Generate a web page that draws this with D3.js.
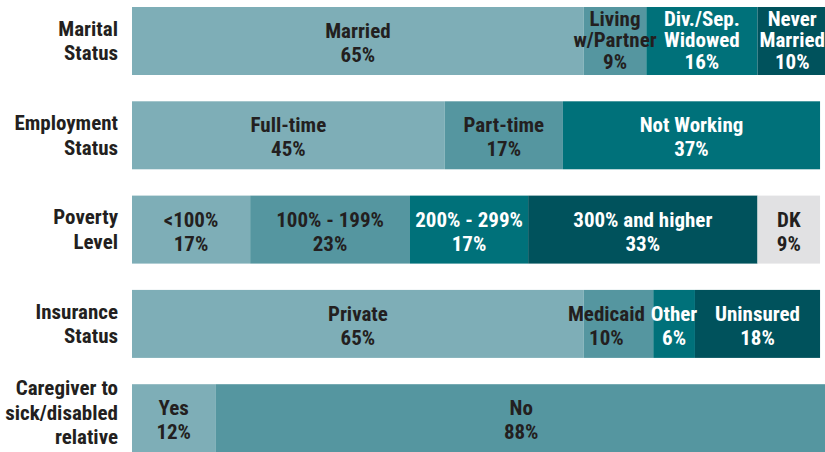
<!DOCTYPE html>
<meta charset="utf-8">
<style>
body { margin: 0; background: #fff; }
svg text {
  font-family: Roboto, "Liberation Sans", sans-serif;
  font-stretch: condensed;
  font-weight: bold;
}
</style>
<body>
<svg width="825" height="452"></svg>
</body>
<script src="https://d3js.org/d3.v7.min.js"></script>
<script>

// row labels (one entry per line)
var rowLabels = [
  ["Marital", "Status"],
  ["Employment", "Status"],
  ["Poverty", "Level"],
  ["Insurance", "Status"],
  ["Caregiver to", "sick/disabled", "relative"]
];

// segment labels per row (one entry per line)
var segLabels = [
  [["Married"], ["Living", "w/Partner"], ["Div./Sep.", "Widowed"], ["Never", "Married"]],
  [["Full-time"], ["Part-time"], ["Not Working"]],
  [["<100%"], ["100% - 199%"], ["200% - 299%"], ["300% and higher"], ["DK"]],
  [["Private"], ["Medicaid"], ["Other"], ["Uninsured"]],
  [["Yes"], ["No"]]
];

// percentages per row
var segValues = [
  [65, 9, 16, 10],
  [45, 17, 37],
  [17, 23, 17, 33, 9],
  [65, 10, 6, 18],
  [12, 88]
];

var palette = ["#7eaeb7", "#5596a0", "#00717a", "#00525c"];
var dkColor = "#e1e1e3";
var darkText = "#231f20";

var svg = d3.select("svg");

var x = d3.scaleLinear().domain([0, 100]).range([132, 827]);

var y = d3.scaleBand()
    .domain(d3.range(rowLabels.length))
    .range([7, 7 + 4 * 94.3 + 68])
    .paddingInner(0.279)
    .paddingOuter(0);

var rowData = rowLabels.map(function(l, i) {
  var acc = 0;
  var segs = segValues[i].map(function(v, j) {
    var s = {label: segLabels[i][j], value: v, x0: acc, x1: acc + v, idx: j};
    acc += v;
    return s;
  });
  return {label: l, i: i, segs: segs};
});

var bh = y.bandwidth();

var rows = svg.selectAll("g.row")
    .data(rowData)
  .enter().append("g")
    .attr("class", "row")
    .attr("transform", function(d) { return "translate(0," + y(d.i) + ")"; });

// row label on the left
rows.append("text")
    .attr("text-anchor", "end")
    .attr("fill", darkText)
    .style("font-size", "21px")
  .selectAll("tspan")
    .data(function(d) {
      var n = d.label.length, off = n > 2 ? 1.5 : 7;
      return d.label.map(function(t, k) { return {t: t, y: bh / 2 + (k - (n - 1) / 2) * 24.5 + off}; });
    })
  .enter().append("tspan")
    .attr("x", 118)
    .attr("y", function(d) { return d.y; })
    .text(function(d) { return d.t; });

// all bars first, then the labels so overflowing text stays on top
rows.append("g").selectAll("rect")
    .data(function(d) { return d.segs; })
  .enter().append("rect")
    .attr("x", function(d) { return x(d.x0); })
    .attr("width", function(d) { return x(d.x1) - x(d.x0); })
    .attr("height", bh)
    .attr("fill", function(d) { return d.label[0] === "DK" ? dkColor : palette[d.idx]; });

var labels = rows.append("g").selectAll("text")
    .data(function(d) { return d.segs; })
  .enter().append("text")
    .attr("text-anchor", "middle")
    .attr("fill", function(d) { return (d.idx >= 2 && d.label[0] !== "DK") ? "#fff" : darkText; })
    .style("font-size", "21px");

labels.selectAll("tspan")
    .data(function(d) {
      var lines = d.label.concat([d.value + "%"]);
      var n = lines.length;
      var lh = n > 2 ? 21.5 : 24;
      var off = n > 2 ? 6.5 : 9;
      var cx = (x(d.x0) + x(d.x1)) / 2;
      return lines.map(function(t, k) { return {t: t, x: cx, y: bh / 2 + (k - (n - 1) / 2) * lh + off}; });
    })
  .enter().append("tspan")
    .attr("x", function(d) { return d.x; })
    .attr("y", function(d) { return d.y; })
    .text(function(d) { return d.t; });

// nudge a label left when it would run into the next segment's label
labels.each(function(d) { d.w = this.getBBox().width; });
labels.each(function(d, j, nodes) {
  var next = nodes[j + 1];
  if (!next) return;
  var nd = d3.select(next).datum();
  var right = (x(d.x0) + x(d.x1)) / 2 + d.w / 2;
  var nextLeft = (x(nd.x0) + x(nd.x1)) / 2 - nd.w / 2;
  if (right > nextLeft - 4) {
    var shift = right - (nextLeft - 6);
    d3.select(this).selectAll("tspan").attr("dx", -shift);
  }
});

</script>
